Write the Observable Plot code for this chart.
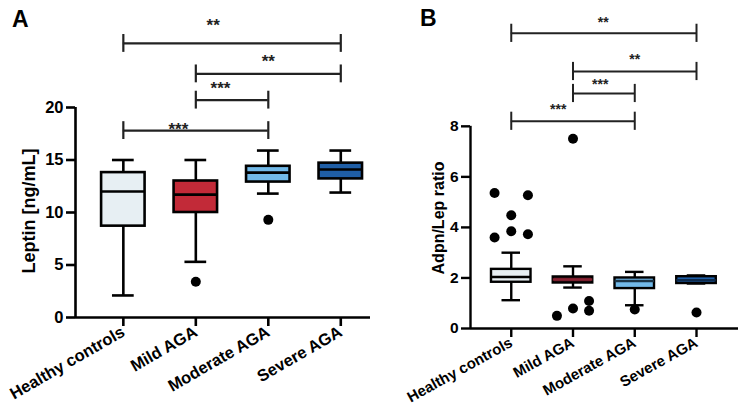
<!DOCTYPE html>
<html><head><meta charset="utf-8">
<script src="https://cdn.jsdelivr.net/npm/d3@7"></script>
<script src="https://cdn.jsdelivr.net/npm/@observablehq/plot@0.6"></script>
<style>
body{margin:0;background:#fff;font-family:"Liberation Sans",Arial,sans-serif;}
#wrap{position:relative;width:749px;height:420px;overflow:hidden;background:#fff}
.panel{position:absolute;top:0}
.letter{position:absolute;font-weight:bold;font-size:23px;line-height:1}
.ytitle{position:absolute;font-weight:bold;white-space:nowrap;transform:translate(-50%,-50%) rotate(-90deg);line-height:1}
</style></head><body><div id="wrap"></div>
<script>
// ---------- data ----------
const categories = ["Healthy controls", "Mild AGA", "Moderate AGA", "Severe AGA"];

// Panel A: Leptin [ng/mL]
const leptinLow    = [2.1, 5.3, 11.8, 11.9];
const leptinQ1     = [8.7, 10.0, 12.9, 13.2];
const leptinMedian = [12.0, 11.7, 13.8, 14.1];
const leptinQ3     = [13.8, 13.0, 14.4, 14.7];
const leptinHigh   = [15.0, 15.0, 15.9, 15.9];
const leptinOutlierGroup  = [1, 2];
const leptinOutlierJitter = [0, 0];
const leptinOutlierValue  = [3.4, 9.3];
const leptinYTicks = [0, 5, 10, 15, 20];
const leptinSigFrom   = [0, 1, 1, 0];
const leptinSigTo     = [3, 3, 2, 2];
const leptinSigY      = [26.1, 23.2, 20.7, 17.8];
const leptinSigText   = ["**", "**", "***", "***"];
const leptinSigTextX  = [1.24, 2.0, 1.34, 0.76];
const leptinSigTextY  = [28.3, 24.9, 22.3, 18.4];

// Panel B: Adpn/Lep ratio
const ratioLow    = [1.12, 1.62, 0.92, 1.78];
const ratioQ1     = [1.83, 1.80, 1.58, 1.78];
const ratioMedian = [2.04, 1.94, 1.88, 1.91];
const ratioQ3     = [2.34, 2.04, 2.00, 2.05];
const ratioHigh   = [3.00, 2.46, 2.24, 2.10];
const ratioOutlierGroup  = [0, 0, 0, 0, 0, 0, 1, 1, 1, 1, 1, 2, 3];
const ratioOutlierJitter = [-0.27, 0.27, -0.27, 0, 0, 0.27, 0, -0.26, 0, 0.26, 0.26, 0, 0];
const ratioOutlierValue  = [5.36, 5.27, 3.60, 4.48, 3.85, 3.73, 7.51, 0.50, 0.79, 1.09, 0.70, 0.75, 0.63];
const ratioYTicks = [0, 2, 4, 6, 8];
const ratioSigFrom  = [0, 1, 1, 0];
const ratioSigTo    = [3, 3, 2, 2];
const ratioSigY     = [11.68, 10.17, 9.30, 8.20];
const ratioSigText  = ["**", "**", "***", "***"];
const ratioSigTextX = [1.49, 2.0, 1.44, 0.76];
const ratioSigTextY = [12.27, 10.81, 9.82, 8.83];

const fillsA = ["#e7eff3", "#c22a38", "#72b9e8", "#1f5ea6"];
const fillsB = ["#e7eff3", "#4a1420", "#72b9e8", "#1f5ea6"];
const mediansB = ["#000", "#8a2232", "#1a3345", "#0d2a4c"];

// ---------- builder ----------
function panel(o) {
  const idx = categories.map((_, i) => i);
  const boxes = idx.map(i => ({i, low: o.low[i], q1: o.q1[i], med: o.med[i], q3: o.q3[i], high: o.high[i],
    fill: o.fills[i], medStroke: o.medStrokes[i]}));
  const outl = o.oGroup.map((g, k) => ({x: g + o.oJit[k], y: o.oVal[k]}));
  const sig = o.sFrom.map((f, k) => ({from: f, to: o.sTo[k], y: o.sY[k], t: o.sText[k], tx: o.sTx[k], ty: o.sTy[k]}));
  const bw = o.boxHalf, cw = o.capHalf, sw = o.sw;
  const yMaxAxis = o.yTicks[o.yTicks.length - 1];
  return Plot.plot({
    width: o.width, height: 420,
    marginLeft: o.mL, marginRight: o.mR, marginTop: o.mT, marginBottom: o.mB,
    x: {type: "linear", domain: o.xDom},
    y: {type: "linear", domain: o.yDom},
    style: {fontFamily: "'Liberation Sans', Arial, sans-serif", fontWeight: "bold", color: "#000", background: "#fff"},
    marks: [
      // axis lines
      Plot.ruleX([o.xDom[0]], {y1: 0, y2: yMaxAxis, strokeWidth: sw, stroke: "#000"}),
      Plot.ruleY([0], {x1: o.xDom[0], x2: o.xDom[1], strokeWidth: sw, stroke: "#000"}),
      Plot.axisY({ticks: o.yTicks, tickSize: 9, tickPadding: 3, tickFormat: d => String(d), label: null,
        fontSize: o.yFont, strokeWidth: sw, stroke: "#000"}),
      Plot.axisX({ticks: idx, tickSize: 9, tickPadding: 4, tickRotate: o.rot, tickFormat: i => categories[i],
        label: null, fontSize: o.xFont, strokeWidth: sw, stroke: "#000"}),
      // whiskers
      Plot.ruleX(boxes, {x: "i", y1: "low", y2: "high", strokeWidth: sw, stroke: "#000"}),
      Plot.ruleY(boxes, {y: "low", x1: d => d.i - cw, x2: d => d.i + cw, strokeWidth: sw, stroke: "#000"}),
      Plot.ruleY(boxes, {y: "high", x1: d => d.i - cw, x2: d => d.i + cw, strokeWidth: sw, stroke: "#000"}),
      // boxes
      Plot.rect(boxes, {x1: d => d.i - bw, x2: d => d.i + bw, y1: "q1", y2: "q3", fill: "fill", stroke: "#000", strokeWidth: sw}),
      Plot.ruleY(boxes, {y: "med", x1: d => d.i - bw, x2: d => d.i + bw, stroke: "medStroke", strokeWidth: sw}),
      // outliers
      Plot.dot(outl, {x: "x", y: "y", r: o.r, fill: "#000", stroke: null}),
      // significance brackets
      Plot.ruleY(sig, {y: "y", x1: "from", x2: "to", strokeWidth: o.sigSw, stroke: "#222"}),
      Plot.ruleX(sig, {x: "from", y1: d => d.y - o.capH, y2: d => d.y + o.capH, strokeWidth: o.sigSw, stroke: "#222"}),
      Plot.ruleX(sig, {x: "to", y1: d => d.y - o.capH, y2: d => d.y + o.capH, strokeWidth: o.sigSw, stroke: "#222"}),
      Plot.text(sig, {x: "tx", y: "ty", text: "t", fontSize: o.sigFont, fill: "#222", dy: o.sigDy, fontWeight: "bold"})
    ]
  });
}

const wrap = document.getElementById("wrap");

const A = panel({
  width: 376, mL: 75, mR: 6, mT: 2, mB: 103,
  xDom: [-0.66, 3.41], yDom: [0, 30], yTicks: leptinYTicks,
  low: leptinLow, q1: leptinQ1, med: leptinMedian, q3: leptinQ3, high: leptinHigh,
  fills: fillsA, medStrokes: ["#000", "#000", "#000", "#000"],
  oGroup: leptinOutlierGroup, oJit: leptinOutlierJitter, oVal: leptinOutlierValue,
  sFrom: leptinSigFrom, sTo: leptinSigTo, sY: leptinSigY, sText: leptinSigText, sTx: leptinSigTextX, sTy: leptinSigTextY,
  boxHalf: 0.30, capHalf: 0.15, sw: 2.6, r: 5, capH: 0.85, sigSw: 2.2, sigFont: 17, sigDy: 5,
  yFont: 16.5, xFont: 16.5, rot: -30
});
A.classList.add("panel"); A.style.left = "0px";
wrap.appendChild(A);

const B = panel({
  width: 373, mL: 94, mR: 11, mT: 2, mB: 92,
  xDom: [-0.66, 3.68], yDom: [0, 12.9], yTicks: ratioYTicks,
  low: ratioLow, q1: ratioQ1, med: ratioMedian, q3: ratioQ3, high: ratioHigh,
  fills: fillsB, medStrokes: mediansB,
  oGroup: ratioOutlierGroup, oJit: ratioOutlierJitter, oVal: ratioOutlierValue,
  sFrom: ratioSigFrom, sTo: ratioSigTo, sY: ratioSigY, sText: ratioSigText, sTx: ratioSigTextX, sTy: ratioSigTextY,
  boxHalf: 0.32, capHalf: 0.15, sw: 2.4, r: 5, capH: 0.36, sigSw: 2.0, sigFont: 14, sigDy: 4,
  yFont: 15.5, xFont: 15, rot: -29
});
B.classList.add("panel"); B.style.left = "376px";
wrap.appendChild(B);

function addDiv(cls, text, css) {
  const d = document.createElement("div");
  d.className = cls; d.textContent = text; Object.assign(d.style, css);
  wrap.appendChild(d);
}
addDiv("letter", "A", {left: "12px", top: "8px"});
addDiv("letter", "B", {left: "420px", top: "7px"});
addDiv("ytitle", "Leptin [ng/mL]", {left: "29px", top: "211px", fontSize: "18px"});
addDiv("ytitle", "Adpn/Lep ratio", {left: "439px", top: "218px", fontSize: "16px"});
</script></body></html>
